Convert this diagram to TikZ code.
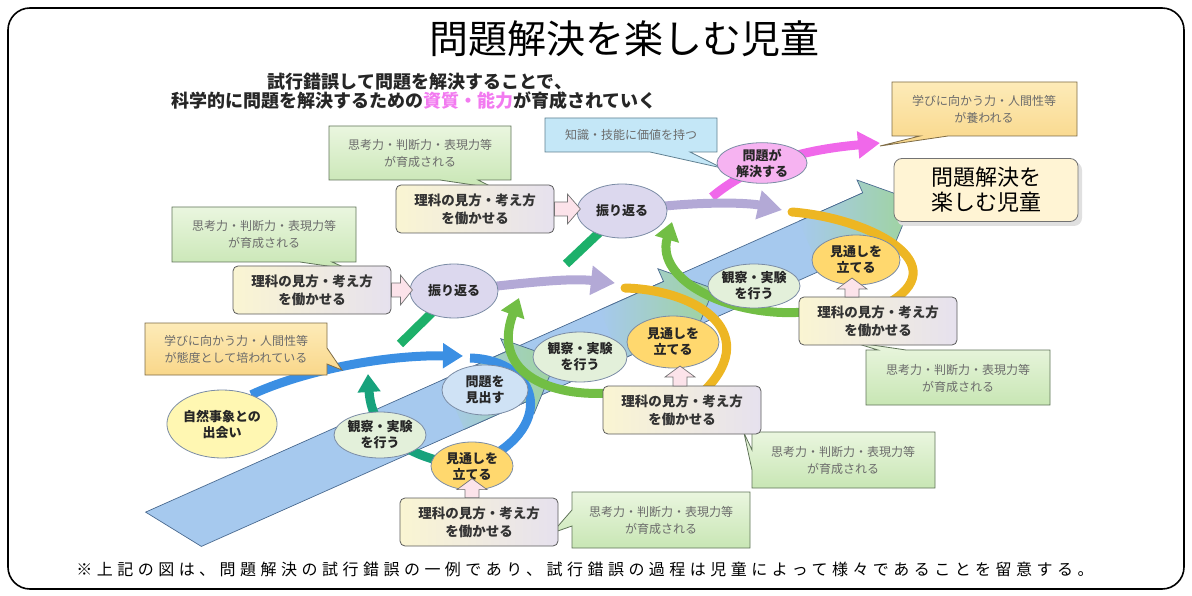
\documentclass[tikz,border=0pt]{standalone}
\usepackage{fontspec}
\setmainfont{Noto Sans CJK JP}
\newfontfamily\footfont[LetterSpace=28]{Noto Sans CJK JP}
\usetikzlibrary{shapes.geometric,arrows.meta}
\pgfdeclarelayer{bandlayer}
\pgfdeclarelayer{arclayer}
\pgfdeclarelayer{toplayer}
\pgfsetlayers{bandlayer,arclayer,main,toplayer}
\definecolor{bandblue}{HTML}{A6C9EE}
\definecolor{bandgreen}{HTML}{9FD49C}
\definecolor{bandline}{HTML}{4A6A90}
\definecolor{gbox1}{HTML}{EAF6DF}
\definecolor{gbox2}{HTML}{C8E6B4}
\definecolor{gline}{HTML}{5F7358}
\definecolor{obox1}{HTML}{FDEBB8}
\definecolor{obox2}{HTML}{F9D78A}
\definecolor{oline}{HTML}{7D6B45}
\definecolor{rika1}{HTML}{FAF5D2}
\definecolor{rika2}{HTML}{E6E1EE}
\definecolor{rikaline}{HTML}{5A5A5A}
\definecolor{kbox}{HTML}{C4E7F7}
\definecolor{kline}{HTML}{5E7F90}
\definecolor{elline}{HTML}{7B8CA5}
\definecolor{eyellow}{HTML}{FFF7B2}
\definecolor{eblue}{HTML}{CFE2F5}
\definecolor{egreen}{HTML}{E3F0DA}
\definecolor{eorange}{HTML}{FFD86E}
\definecolor{elav}{HTML}{DCD8EE}
\definecolor{epink}{HTML}{F6B3F1}
\definecolor{arblue}{HTML}{3B8FE3}
\definecolor{arteal}{HTML}{17A27C}
\definecolor{argreen}{HTML}{1DB06A}
\definecolor{arlgreen}{HTML}{72BE45}
\definecolor{arlav}{HTML}{B3A9D6}
\definecolor{argold}{HTML}{EDB623}
\definecolor{arpink}{HTML}{F068EA}
\definecolor{uparrow}{HTML}{FCE3EA}
\definecolor{smalltext}{HTML}{6B6B6B}
\definecolor{hdrpink}{HTML}{F27AF0}
\definecolor{finalbox}{HTML}{FFF4D4}
\tikzset{
  ell/.style={ellipse, draw=elline, line width=0.8pt, inner sep=0pt, align=center,
      font=\fontsize{13}{16}\selectfont\bfseries, text=black!85},
  rikabox/.style={draw=rikaline, line width=0.8pt, rounded corners=5pt, left color=rika1, right color=rika2,
      minimum width=158pt, minimum height=48pt, inner sep=0pt, align=center,
      font=\fontsize{13.5}{18}\selectfont\bfseries, text=black!80},
  gcall/.style={draw=gline, line width=0.8pt, top color=gbox1, bottom color=gbox2},
  ocall/.style={draw=oline, line width=0.8pt, top color=obox1, bottom color=obox2},
  kcall/.style={draw=kline, line width=0.8pt, fill=kbox},
  smalltxt/.style={align=center, font=\fontsize{12}{17}\selectfont, text=smalltext},
  fatline/.style={line width=9pt},
  blockarrow/.style={draw=black!55, line width=0.7pt, fill=uparrow},
  bandseg/.style={draw=bandline, line width=0.7pt, fill=bandblue},
  headshade/.style={left color=bandblue, right color=bandgreen, draw=bandline, line width=0.7pt},
  hdr/.style={font=\fontsize{18}{20}\selectfont\bfseries, text=black!85},
}
\begin{document}
\begin{tikzpicture}[x=1pt,y=-1pt]
\useasboundingbox (0,0) rectangle (1192,596);
\draw[line width=1.6pt, rounded corners=22pt] (8,8) rectangle (1184,589);

% title and header
\node[font=\fontsize{39}{42}\selectfont] (title) at (624,39) {問題解決を楽しむ児童};
\node[hdr] (headera) at (420,82) {試行錯誤して問題を解決することで、};
\node[hdr] (headerb) at (414,101) {科学的に問題を解決するための\textcolor{hdrpink}{資質・能力}が育成されていく};
\node[font=\fontsize{16}{18}\selectfont\footfont] (footer) at (585,569)
  {※上記の図は、問題解決の試行錯誤の一例であり、試行錯誤の過程は児童によって様々であることを留意する。};

% big stepped arrow band
\begin{pgfonlayer}{bandlayer}
\begin{scope}[shift={(873.7,217.5)}, rotate=24]
  \path[bandseg] (-250,-27) -- (0,-27) -- (0,27) -- (-250,27) -- cycle;
  \path[headshade] (-70,-27) -- (0,-27) -- (0,-41) -- (43,0) -- (0,41) -- (0,27) -- (-70,27);
  \path[bandseg] (-420,-27) -- (-218,-27) -- (-218,27) -- (-420,27) -- cycle;
  \path[headshade] (-288,-27) -- (-218,-27) -- (-218,-41) -- (-175,0) -- (-218,41) -- (-218,27) -- (-288,27);
  \path[bandseg] (-785,-27) -- (-390,-27) -- (-390,27) -- (-748,27) -- cycle;
  \path[headshade] (-460,-27) -- (-390,-27) -- (-390,-41) -- (-347,0) -- (-390,41) -- (-390,27) -- (-460,27);
\end{scope}
\end{pgfonlayer}

% callouts
\path[gcall] (329,126) -- (511,126) -- (511,180) -- (478,180) -- (494,188) -- (440,180) -- (329,180) -- cycle;
\node[smalltxt] (ga) at (420,153) {思考力・判断力・表現力等\\が育成される};
\path[gcall] (172,207) -- (356,207) -- (356,262) -- (332,262) -- (348,269) -- (300,262) -- (172,262) -- cycle;
\node[smalltxt] (gb) at (264,234) {思考力・判断力・表現力等\\が育成される};
\path[gcall] (866,350) -- (878,350) -- (852,342) -- (906,350) -- (1050,350) -- (1050,405) -- (866,405) -- cycle;
\node[smalltxt] (gc) at (958,378) {思考力・判断力・表現力等\\が育成される};
\path[gcall] (752,432) -- (935,432) -- (935,488) -- (752,488) -- (752,470) -- (744,433) -- (752,450) -- cycle;
\node[smalltxt] (gd) at (843,460) {思考力・判断力・表現力等\\が育成される};
\path[gcall] (572,492) -- (750,492) -- (750,548) -- (572,548) -- (572,526) -- (552,533) -- (572,510) -- cycle;
\node[smalltxt] (ge) at (661,520) {思考力・判断力・表現力等\\が育成される};
\path[ocall] (892,82) -- (1077,82) -- (1077,136) -- (948,136) -- (880,146) -- (920,136) -- (892,136) -- cycle;
\node[smalltxt] (otop) at (984,109) {学びに向かう力・人間性等\\が養われる};
\path[ocall] (145,323) -- (327,323) -- (327,348) -- (342,370) -- (327,364) -- (327,375) -- (145,375) -- cycle;
\node[smalltxt] (oleft) at (236,349) {学びに向かう力・人間性等\\が態度として培われている};
\path[kcall] (545,118) -- (717,118) -- (717,152) -- (690,152) -- (722,168) -- (650,152) -- (545,152) -- cycle;
\node[smalltxt] (kbox) at (631,135) {知識・技能に価値を持つ};

% rika boxes
\node[rikabox] (rikaa) at (475,209) {理科の見方・考え方\\を働かせる};
\node[rikabox] (rikab) at (312,290) {理科の見方・考え方\\を働かせる};
\node[rikabox] (rikac) at (878,321) {理科の見方・考え方\\を働かせる};
\node[rikabox] (rikad) at (682,410) {理科の見方・考え方\\を働かせる};
\node[rikabox] (rikae) at (479,522) {理科の見方・考え方\\を働かせる};

% ellipses
\node[ell, fill=eyellow, minimum width=98pt, minimum height=68pt] (deai) at (222,424) {自然事象との\\出会い};
\node[ell, fill=eblue, minimum width=86pt, minimum height=50pt] (mondai) at (485,390) {問題を\\見出す};
\node[ell, fill=egreen, minimum width=86pt, minimum height=46pt] (kansatsua) at (380,435) {観察・実験\\を行う};
\node[ell, fill=eorange, minimum width=82pt, minimum height=48pt] (mitoshia) at (472,466) {見通しを\\立てる};
\node[ell, fill=egreen, minimum width=94pt, minimum height=50pt] (kansatsub) at (580,357) {観察・実験\\を行う};
\node[ell, fill=eorange, minimum width=92pt, minimum height=52pt] (mitoshib) at (673,342) {見通しを\\立てる};
\node[ell, fill=egreen, minimum width=92pt, minimum height=44pt] (kansatsuc) at (754,286) {観察・実験\\を行う};
\node[ell, fill=eorange, minimum width=88pt, minimum height=50pt] (mitoshic) at (856,260) {見通しを\\立てる};
\node[ell, fill=elav, minimum width=88pt, minimum height=54pt] (furia) at (454,291) {振り返る};
\node[ell, fill=elav, minimum width=90pt, minimum height=54pt] (furib) at (622,211) {振り返る};
\node[ell, fill=epink, minimum width=90pt, minimum height=40pt] (kaiketsu) at (762,163) {問題が\\解決する};

% goal box
\fill[black!12, rounded corners=8pt] (897,162) rectangle (1082,226);
\node[draw=black!55, line width=0.8pt, rounded corners=8pt, fill=finalbox, minimum width=184pt,
  minimum height=63pt, align=center, font=\fontsize{22}{25}\selectfont] (goal) at (986,190) {問題解決を\\楽しむ児童};

% coordinates for free ends
\coordinate (bt1) at (463,356);
\coordinate (bs2) at (470,358);
\coordinate (tt) at (368,374);
\coordinate (gl1) at (400,344);
\coordinate (gl2) at (566,264);
\coordinate (lt1) at (615,283);
\coordinate (lt2) at (782,210);
\coordinate (lgs2) at (620,392);
\coordinate (lgt2) at (519,298);
\coordinate (lgs3) at (805,312);
\coordinate (lgt3) at (672,222);
\coordinate (gs2) at (625,288);
\coordinate (gse2) at (700,395);
\coordinate (gs3) at (792,212);
\coordinate (gse3) at (885,305);
\coordinate (pks) at (712,197);
\coordinate (pkt) at (880,143);

\begin{pgfonlayer}{arclayer}
  \draw[fatline, arblue, -{Triangle[length=20pt,width=24pt]}] (deai.45) .. controls (300,372) and (380,355) .. (bt1);
  \draw[fatline, arblue] (bs2) .. controls (540,360) and (560,430) .. (mitoshia.center);
  \draw[fatline, arteal, -{Triangle[length=18pt,width=22pt]}] (mitoshia.center) .. controls (420,462) and (372,440) .. (tt);
  \draw[fatline, argreen] (gl1) -- (furia.center);
  \draw[fatline, argreen] (gl2) -- (furib.center);
  \draw[fatline, arlgreen, -{Triangle[length=18pt,width=24pt]}] (lgs2) .. controls (555,400) and (490,375) .. (lgt2);
  \draw[fatline, arlgreen, -{Triangle[length=18pt,width=24pt]}] (lgs3) .. controls (730,318) and (655,280) .. (lgt3);
  \draw[fatline, arpink, -{Triangle[length=22pt,width=26pt]}] (pks) .. controls (750,165) and (800,150) .. (pkt);
  \draw[fatline, arlav, -{Triangle[length=24pt,width=28pt]}] (furia.center) .. controls (530,282) and (570,278) .. (lt1);
  \draw[fatline, arlav, -{Triangle[length=24pt,width=28pt]}] (furib.center) .. controls (700,200) and (750,203) .. (lt2);
  \draw[fatline, argold, line cap=round] (gs2) .. controls (700,290) and (765,335) .. (gse2);
  \draw[fatline, argold, line cap=round] (gs3) .. controls (870,218) and (960,265) .. (gse3);
\end{pgfonlayer}

% small block arrows
\begin{pgfonlayer}{toplayer}
  \draw[blockarrow] (rikab.east) ++(0,-7) -- ++(9,0) -- ++(0,-8) -- ++(12,15) -- ++(-12,15) -- ++(0,-8) -- ++(-9,0) -- cycle;
  \draw[blockarrow] (rikaa.east) ++(0,-7) -- ++(13,0) -- ++(0,-8) -- ++(13,15) -- ++(-13,15) -- ++(0,-8) -- ++(-13,0) -- cycle;
  \draw[blockarrow] (mitoshia.center |- rikae.north) ++(-7,0) -- ++(0,-8) -- ++(-8,0) -- ++(15,-11) -- ++(15,11) -- ++(-8,0) -- ++(0,8) -- cycle;
  \draw[blockarrow] (680,386) ++(-7,0) -- ++(0,-9) -- ++(-8,0) -- ++(15,-11) -- ++(15,11) -- ++(-8,0) -- ++(0,9) -- cycle;
  \draw[blockarrow] (852,297) ++(-7,0) -- ++(0,-8) -- ++(-8,0) -- ++(15,-11) -- ++(15,11) -- ++(-8,0) -- ++(0,8) -- cycle;
\end{pgfonlayer}
\end{tikzpicture}
\end{document}
